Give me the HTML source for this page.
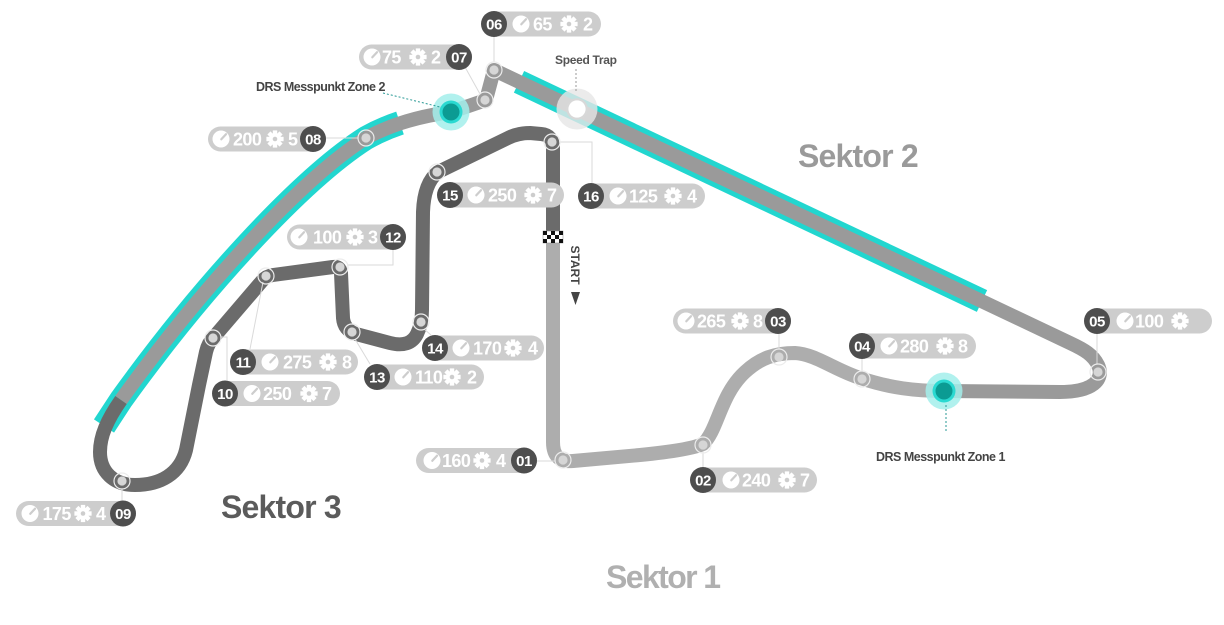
<!DOCTYPE html>
<html>
<head>
<meta charset="utf-8">
<style>
  html,body{margin:0;padding:0;background:#fff;}
  body{width:1224px;height:625px;overflow:hidden;}
  svg{display:block;}
  .v{font-size:18px;fill:#fff;letter-spacing:-0.6px;}
  .n{font-size:15px;fill:#fff;letter-spacing:-0.5px;text-anchor:middle;}
  .pill{fill:#cdcdcd;}
  .nc{fill:#4e4e4e;}
  .ld{stroke:#dadada;stroke-width:1;fill:none;}
  .trk{fill:none;stroke-width:14;stroke-linejoin:round;stroke-linecap:butt;}
</style>
</head>
<body>
<svg width="1224" height="625" viewBox="0 0 1224 625" xmlns="http://www.w3.org/2000/svg" font-family="'Liberation Sans', Arial, sans-serif" font-weight="bold">
  <defs>
    <g id="gauge">
      <circle r="8.5" fill="#fff"/>
      <path d="M0.3,0.3 L5,-4.8" stroke="#cdcdcd" stroke-width="2.2" stroke-linecap="round"/>
    </g>
    <g id="gear" fill="#fff">
      <circle r="6"/>
      <rect x="-2.2" y="-8.6" width="4.4" height="5"/>
      <rect x="-2.2" y="-8.6" width="4.4" height="5" transform="rotate(45)"/>
      <rect x="-2.2" y="-8.6" width="4.4" height="5" transform="rotate(90)"/>
      <rect x="-2.2" y="-8.6" width="4.4" height="5" transform="rotate(135)"/>
      <rect x="-2.2" y="-8.6" width="4.4" height="5" transform="rotate(180)"/>
      <rect x="-2.2" y="-8.6" width="4.4" height="5" transform="rotate(225)"/>
      <rect x="-2.2" y="-8.6" width="4.4" height="5" transform="rotate(270)"/>
      <rect x="-2.2" y="-8.6" width="4.4" height="5" transform="rotate(315)"/>
      <circle r="2.3" fill="#cdcdcd"/>
    </g>
  </defs>

  <!-- DRS cyan borders -->
  <path d="M519,81.8 L982,301" stroke="#22d6cf" stroke-width="24" fill="none"/>
  <path d="M400,123 Q382,129 366,138 C300,180 200,290 121,400 L104,426" stroke="#22d6cf" stroke-width="24" fill="none"/>

  <!-- Sector 2 track -->
  <path class="trk" stroke="#9a9a9a" d="M944,391 L1060,392 C1092,392 1105,380 1098,365 C1093,355 1085,350 1070,343 L494,70 L486,100 L451,112 C420,116 392,124 366,138 C300,180 200,290 121,400"/>
  <!-- Sector 1 track -->
  <path class="trk" stroke="#adadad" d="M553,238 L553,442 Q553,463 573,461 L640,455 Q690,450 703,444 C718,430 720,395 745,372 C760,358 775,353 795,353 C815,354 835,370 860,378 C890,388 915,391 944,391"/>
  <!-- Sector 3 track -->
  <path class="trk" stroke="#6b6b6b" d="M121,400 C107,420 100,436 100,452 C100,472 114,485 135,485 C160,485 180,474 186,450 L199,385 L206,352 Q208,343 214,337 L262,281 Q266,276 273,275 L333,267 Q340,266 341,273 L343,318 Q344,330 356,334 L390,343 Q410,348 417,334 Q422,324 422,310 L423,212 Q424,183 438,172 L508,138 Q518,133 530,133 L541,134 Q553,135 553,148 L553,238"/>

  <!-- leader lines -->
  <path class="ld" d="M494,37 V62"/>
  <path class="ld" d="M465,67 L480,94"/>
  <path class="ld" d="M326,138 H358"/>
  <path class="ld" d="M559,142 H592 V183"/>
  <path class="ld" d="M393,250 V265 H347"/>
  <path class="ld" d="M263,282 L250,349"/>
  <path class="ld" d="M221,337 H227 V380"/>
  <path class="ld" d="M355,339 L370,364"/>
  <path class="ld" d="M424,329 L431,335"/>
  <path class="ld" d="M779,334 V349"/>
  <path class="ld" d="M862,359 V371"/>
  <path class="ld" d="M1097,334 V364"/>
  <path class="ld" d="M703,452 V467"/>
  <path class="ld" d="M537,461 H555"/>
  <path class="ld" d="M122,489 V501"/>

  <!-- nodes -->
  <g fill="#d6d6d6" stroke="none">
    <g><circle cx="494" cy="70" r="8" fill="none" stroke="#ececec" stroke-width="1.2"/><circle cx="494" cy="70" r="4.6"/></g>
    <g><circle cx="485" cy="100" r="8" fill="none" stroke="#ececec" stroke-width="1.2"/><circle cx="485" cy="100" r="4.6"/></g>
    <g><circle cx="366" cy="138" r="8" fill="none" stroke="#ececec" stroke-width="1.2"/><circle cx="366" cy="138" r="4.6"/></g>
    <g><circle cx="122" cy="481" r="8" fill="none" stroke="#ececec" stroke-width="1.2"/><circle cx="122" cy="481" r="4.6"/></g>
    <g><circle cx="213" cy="338" r="8" fill="none" stroke="#ececec" stroke-width="1.2"/><circle cx="213" cy="338" r="4.6"/></g>
    <g><circle cx="266" cy="276" r="8" fill="none" stroke="#ececec" stroke-width="1.2"/><circle cx="266" cy="276" r="4.6"/></g>
    <g><circle cx="340" cy="267" r="8" fill="none" stroke="#ececec" stroke-width="1.2"/><circle cx="340" cy="267" r="4.6"/></g>
    <g><circle cx="352" cy="332" r="8" fill="none" stroke="#ececec" stroke-width="1.2"/><circle cx="352" cy="332" r="4.6"/></g>
    <g><circle cx="421" cy="322" r="8" fill="none" stroke="#ececec" stroke-width="1.2"/><circle cx="421" cy="322" r="4.6"/></g>
    <g><circle cx="437" cy="172" r="8" fill="none" stroke="#ececec" stroke-width="1.2"/><circle cx="437" cy="172" r="4.6"/></g>
    <g><circle cx="552" cy="142" r="8" fill="none" stroke="#ececec" stroke-width="1.2"/><circle cx="552" cy="142" r="4.6"/></g>
    <g><circle cx="563" cy="460" r="8" fill="none" stroke="#ececec" stroke-width="1.2"/><circle cx="563" cy="460" r="4.6"/></g>
    <g><circle cx="703" cy="445" r="8" fill="none" stroke="#ececec" stroke-width="1.2"/><circle cx="703" cy="445" r="4.6"/></g>
    <g><circle cx="779" cy="357" r="8" fill="none" stroke="#ececec" stroke-width="1.2"/><circle cx="779" cy="357" r="4.6"/></g>
    <g><circle cx="862" cy="379" r="8" fill="none" stroke="#ececec" stroke-width="1.2"/><circle cx="862" cy="379" r="4.6"/></g>
    <g><circle cx="1098" cy="372" r="8" fill="none" stroke="#ececec" stroke-width="1.2"/><circle cx="1098" cy="372" r="4.6"/></g>
  </g>

  <!-- DRS markers -->
  <circle cx="451" cy="112" r="18.5" fill="#a3efeb" opacity="0.85"/>
  <circle cx="451" cy="112" r="11.5" fill="#2ad9d1"/>
  <circle cx="451" cy="112" r="8.5" fill="#0b9b93"/>
  <circle cx="944" cy="391" r="18.5" fill="#a3efeb" opacity="0.85"/>
  <circle cx="944" cy="391" r="11.5" fill="#2ad9d1"/>
  <circle cx="944" cy="391" r="8.5" fill="#0b9b93"/>

  <!-- Speed trap -->
  <circle cx="577" cy="109" r="20.5" fill="#e6e6e6" opacity="0.8"/>
  <circle cx="577" cy="109" r="10.8" fill="#d8d8d8"/>
  <circle cx="577" cy="109" r="8.6" fill="#fff"/>

  <!-- dashed pointers -->
  <path d="M576,69 V92" stroke="#9a9a9a" stroke-width="1" stroke-dasharray="2,2" fill="none"/>
  <path d="M383,93 L440,107" stroke="#2a9a96" stroke-width="1" stroke-dasharray="2,2" fill="none"/>
  <path d="M946,405 V433" stroke="#2a9a96" stroke-width="1" stroke-dasharray="2,2" fill="none"/>

  <!-- labels -->
  <text x="555" y="64" font-size="12" fill="#555" letter-spacing="-0.3">Speed Trap</text>
  <text x="256" y="91" font-size="12.5" fill="#444" letter-spacing="-0.5">DRS Messpunkt Zone 2</text>
  <text x="876" y="461" font-size="12.5" fill="#444" letter-spacing="-0.5">DRS Messpunkt Zone 1</text>
  <text x="798" y="167" font-size="32" fill="#9a9a9a" letter-spacing="-0.8">Sektor 2</text>
  <text x="221" y="518" font-size="32" fill="#5b5b5b" letter-spacing="-0.8">Sektor 3</text>
  <text x="606" y="588" font-size="32" fill="#b0b0b0" letter-spacing="-1.6">Sektor 1</text>

  <!-- Start -->
  <g transform="translate(543,231)">
    <rect x="0" y="0" width="20" height="12" fill="#fff" stroke="#999" stroke-width="0.6"/>
    <rect x="0" y="0" width="4" height="4" fill="#111"/>
    <rect x="8" y="0" width="4" height="4" fill="#111"/>
    <rect x="16" y="0" width="4" height="4" fill="#111"/>
    <rect x="4" y="4" width="4" height="4" fill="#111"/>
    <rect x="12" y="4" width="4" height="4" fill="#111"/>
    <rect x="0" y="8" width="4" height="4" fill="#111"/>
    <rect x="8" y="8" width="4" height="4" fill="#111"/>
    <rect x="16" y="8" width="4" height="4" fill="#111"/>
  </g>
  <text transform="translate(571,265) rotate(90)" text-anchor="middle" font-size="12" fill="#444">START</text>
  <polygon points="571,292 580,292 575.5,305" fill="#444"/>

  <!-- PILLS -->
  <!-- 06 -->
  <rect class="pill" x="482" y="11.5" width="119" height="25" rx="12.5"/>
  <circle class="nc" cx="494" cy="24" r="13"/>
  <text class="n" x="494" y="29.5">06</text>
  <use href="#gauge" x="521" y="24"/>
  <text class="v" x="533" y="30.5">65</text>
  <use href="#gear" x="569" y="24"/>
  <text class="v" x="583" y="30.5">2</text>

  <!-- 07 -->
  <rect class="pill" x="359" y="44.5" width="113" height="25" rx="12.5"/>
  <circle class="nc" cx="459" cy="57" r="13"/>
  <text class="n" x="459" y="62.5">07</text>
  <use href="#gauge" x="372" y="57"/>
  <text class="v" x="382" y="63.5">75</text>
  <use href="#gear" x="418" y="57"/>
  <text class="v" x="431" y="63.5">2</text>

  <!-- 08 -->
  <rect class="pill" x="208" y="126.5" width="118" height="25" rx="12.5"/>
  <circle class="nc" cx="313" cy="139" r="13"/>
  <text class="n" x="313" y="144.5">08</text>
  <use href="#gauge" x="221" y="139"/>
  <text class="v" x="233" y="145.5">200</text>
  <use href="#gear" x="275" y="139"/>
  <text class="v" x="288" y="145.5">5</text>

  <!-- 09 -->
  <rect class="pill" x="16" y="501" width="120" height="25" rx="12.5"/>
  <circle class="nc" cx="123" cy="513.5" r="13"/>
  <text class="n" x="123" y="519">09</text>
  <use href="#gauge" x="30" y="513.5"/>
  <text class="v" x="42.5" y="520">175</text>
  <use href="#gear" x="83" y="513.5"/>
  <text class="v" x="96" y="520">4</text>

  <!-- 10 -->
  <rect class="pill" x="213" y="381" width="127" height="25" rx="12.5"/>
  <circle class="nc" cx="225" cy="393.5" r="13"/>
  <text class="n" x="225" y="399">10</text>
  <use href="#gauge" x="252" y="393.5"/>
  <text class="v" x="263" y="400">250</text>
  <use href="#gear" x="309" y="393.5"/>
  <text class="v" x="322" y="400">7</text>

  <!-- 11 -->
  <rect class="pill" x="231" y="349.5" width="127" height="25" rx="12.5"/>
  <circle class="nc" cx="243" cy="362" r="13"/>
  <text class="n" x="243" y="367.5">11</text>
  <use href="#gauge" x="270" y="362"/>
  <text class="v" x="283" y="368.5">275</text>
  <use href="#gear" x="328" y="362"/>
  <text class="v" x="342" y="368.5">8</text>

  <!-- 12 -->
  <rect class="pill" x="287" y="224.5" width="119" height="25" rx="12.5"/>
  <circle class="nc" cx="393" cy="237" r="13"/>
  <text class="n" x="393" y="242.5">12</text>
  <use href="#gauge" x="299" y="237"/>
  <text class="v" x="313" y="243.5">100</text>
  <use href="#gear" x="355" y="237"/>
  <text class="v" x="368" y="243.5">3</text>

  <!-- 13 -->
  <rect class="pill" x="365" y="364.5" width="119" height="25" rx="12.5"/>
  <circle class="nc" cx="377" cy="377" r="13"/>
  <text class="n" x="377" y="382.5">13</text>
  <use href="#gauge" x="403" y="377"/>
  <text class="v" x="415" y="383.5">110</text>
  <use href="#gear" x="452" y="377"/>
  <text class="v" x="467" y="383.5">2</text>

  <!-- 14 -->
  <rect class="pill" x="423" y="335.5" width="121" height="25" rx="12.5"/>
  <circle class="nc" cx="435" cy="348" r="13"/>
  <text class="n" x="435" y="353.5">14</text>
  <use href="#gauge" x="461" y="348"/>
  <text class="v" x="473" y="354.5">170</text>
  <use href="#gear" x="513" y="348"/>
  <text class="v" x="528" y="354.5">4</text>

  <!-- 15 -->
  <rect class="pill" x="438" y="182.5" width="126" height="25" rx="12.5"/>
  <circle class="nc" cx="450" cy="195" r="13"/>
  <text class="n" x="450" y="200.5">15</text>
  <use href="#gauge" x="476" y="195"/>
  <text class="v" x="488" y="201.5">250</text>
  <use href="#gear" x="533" y="195"/>
  <text class="v" x="547" y="201.5">7</text>

  <!-- 16 -->
  <rect class="pill" x="579" y="183.5" width="126" height="25" rx="12.5"/>
  <circle class="nc" cx="591" cy="196" r="13"/>
  <text class="n" x="591" y="201.5">16</text>
  <use href="#gauge" x="618" y="196"/>
  <text class="v" x="629" y="202.5">125</text>
  <use href="#gear" x="673" y="196"/>
  <text class="v" x="687" y="202.5">4</text>

  <!-- 01 -->
  <rect class="pill" x="416" y="448" width="121" height="25" rx="12.5"/>
  <circle class="nc" cx="524" cy="460.5" r="13"/>
  <text class="n" x="524" y="466">01</text>
  <use href="#gauge" x="432" y="460.5"/>
  <text class="v" x="442" y="467">160</text>
  <use href="#gear" x="482" y="460.5"/>
  <text class="v" x="496" y="467">4</text>

  <!-- 02 -->
  <rect class="pill" x="691" y="467.5" width="126" height="25" rx="12.5"/>
  <circle class="nc" cx="703" cy="480" r="13"/>
  <text class="n" x="703" y="485.5">02</text>
  <use href="#gauge" x="731" y="480"/>
  <text class="v" x="742" y="486.5">240</text>
  <use href="#gear" x="787" y="480"/>
  <text class="v" x="800" y="486.5">7</text>

  <!-- 03 -->
  <rect class="pill" x="673" y="308.5" width="118" height="25" rx="12.5"/>
  <circle class="nc" cx="778" cy="321" r="13"/>
  <text class="n" x="778" y="326.5">03</text>
  <use href="#gauge" x="686" y="321"/>
  <text class="v" x="697" y="327.5">265</text>
  <use href="#gear" x="740" y="321"/>
  <text class="v" x="753" y="327.5">8</text>

  <!-- 04 -->
  <rect class="pill" x="850" y="333.5" width="126" height="25" rx="12.5"/>
  <circle class="nc" cx="862" cy="346" r="13"/>
  <text class="n" x="862" y="351.5">04</text>
  <use href="#gauge" x="889" y="346"/>
  <text class="v" x="900" y="352.5">280</text>
  <use href="#gear" x="945" y="346"/>
  <text class="v" x="958" y="352.5">8</text>

  <!-- 05 -->
  <rect class="pill" x="1085" y="308.5" width="127" height="25" rx="12.5"/>
  <circle class="nc" cx="1097" cy="321" r="13"/>
  <text class="n" x="1097" y="326.5">05</text>
  <use href="#gauge" x="1125" y="321"/>
  <text class="v" x="1135" y="327.5">100</text>
  <use href="#gear" x="1180" y="321"/>
</svg>
</body>
</html>
